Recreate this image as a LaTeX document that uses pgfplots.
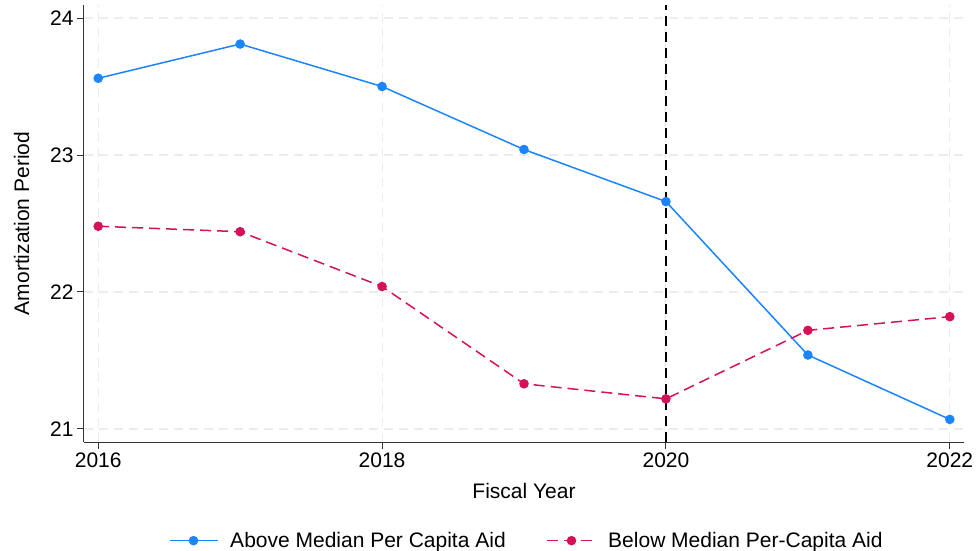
\documentclass[border=0pt]{standalone}
\usepackage{fontspec}
\setmainfont{Liberation Sans}
\usepackage{pgfplots}
\pgfplotsset{compat=1.18}
\definecolor{stcone}{RGB}{26,133,255}
\definecolor{stctwo}{RGB}{212,17,89}
\definecolor{gridgray}{RGB}{236,236,236}
\begin{document}
\begin{tikzpicture}[x=1pt,y=1pt]
\path[use as bounding box] (-84,-109) rectangle (893,442);
\begin{axis}[
  at={(0,0)}, anchor=south west,
  scale only axis=true,
  width=880pt, height=437pt,
  xmin=2015.9, xmax=2022.1,
  ymin=20.905, ymax=24.095,
  axis x line*=bottom, axis y line*=left,
  axis line style={line width=1pt, black!80},
  xtick={2016,2018,2020,2022},
  ytick={21,22,23,24},
  xticklabel style={/pgf/number format/1000 sep={}},
  /pgf/number format/assume math mode=true,
  tick align=outside,
  major tick length=7pt,
  tick style={line width=1pt, black!80},
  grid=major,
  major grid style={gridgray, dash pattern=on 9pt off 6pt, line width=1.1pt},
  font=\fontsize{21}{25}\selectfont,
  xlabel={Fiscal Year},
  ylabel={Amortization Period},
  xlabel style={yshift=-9pt},
  ylabel style={yshift=14pt},
  legend style={draw=none, at={(0.503,-0.197)}, anchor=north,
    legend columns=2, /tikz/every even column/.append style={column sep=39pt},
    font=\fontsize{21}{25}\selectfont},
  legend image code/.code={
    \draw[#1] (0pt,0pt) -- (48pt,0pt);
    \fill[#1, solid] (24pt,0pt) circle (4pt);
    \path (58pt,0pt);
  },
]
\draw[black, line width=1.4pt, dash pattern=on 10pt off 6pt]
  (axis cs:2020,20.905) -- (axis cs:2020,24.095);
\addplot[stcone, line width=1.5pt, mark=*, mark size=4pt,
  mark options={solid, fill=stcone, draw=stcone}]
  coordinates {
  (2016,23.56) (2017,23.81) (2018,23.50) (2019,23.04)
  (2020,22.66) (2021,21.54) (2022,21.07)
};
\addlegendentry{Above Median Per Capita Aid}
\addplot[stctwo, line width=1.5pt, dash pattern=on 11pt off 6pt, mark=*, mark size=4pt,
  mark options={solid, fill=stctwo, draw=stctwo}]
  coordinates {
  (2016,22.48) (2017,22.44) (2018,22.04) (2019,21.33)
  (2020,21.22) (2021,21.72) (2022,21.82)
};
\addlegendentry{Below Median Per-Capita Aid}
\end{axis}
\end{tikzpicture}
\end{document}
